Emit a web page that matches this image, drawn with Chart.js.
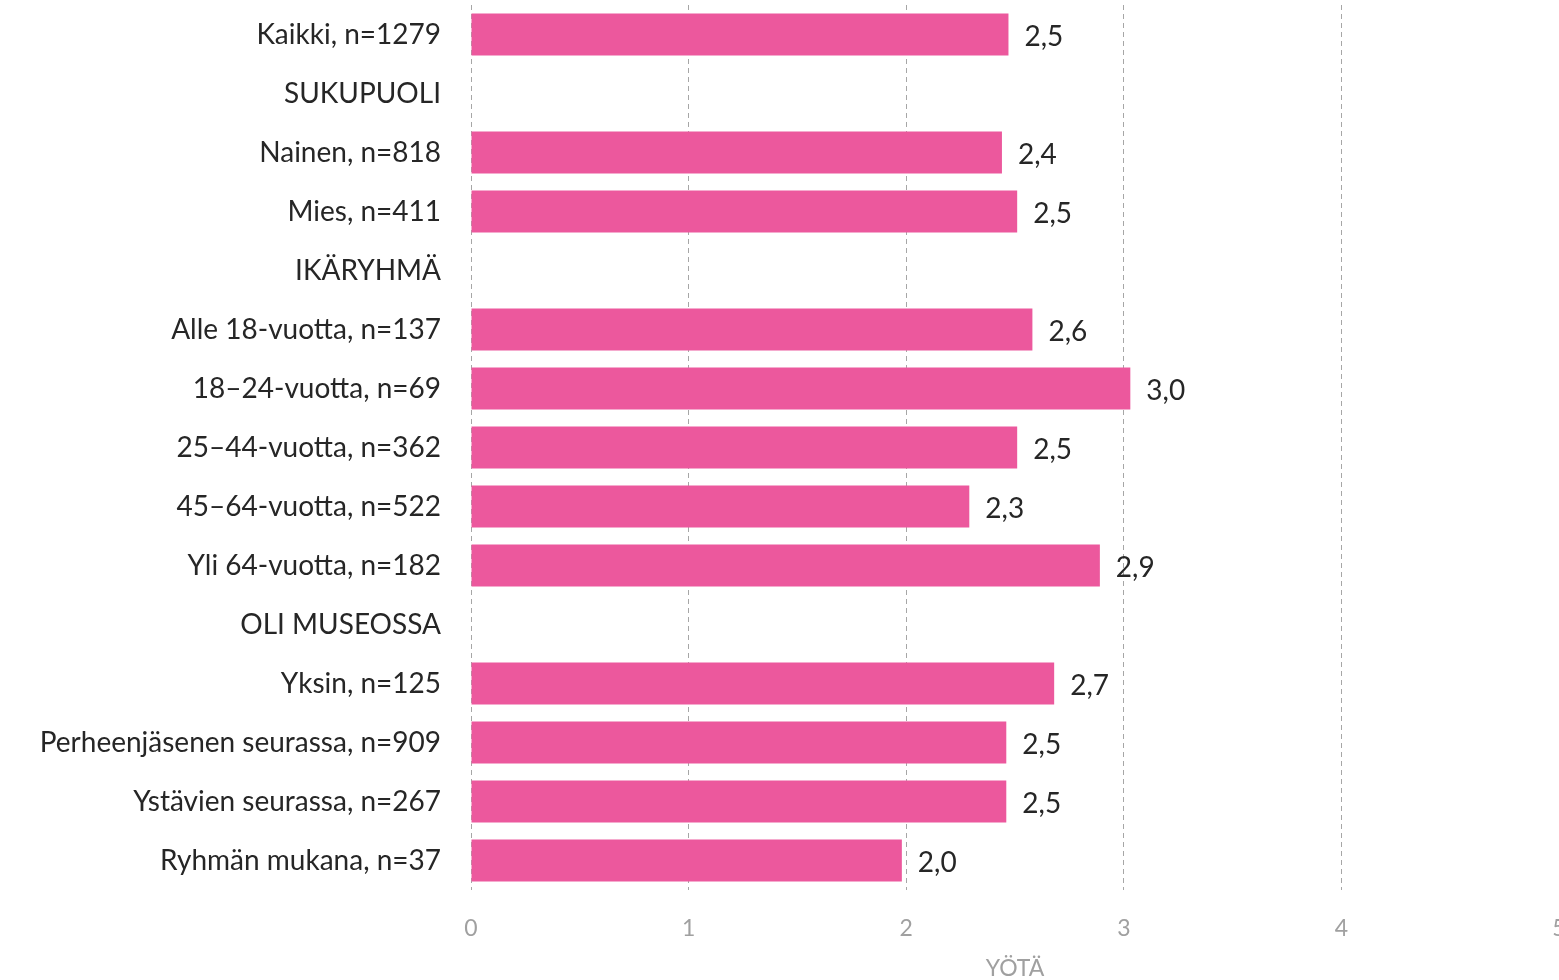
<!DOCTYPE html>
<html>
<head>
<meta charset="utf-8">
<script src="https://cdn.jsdelivr.net/npm/chart.js@4.4.1/dist/chart.umd.min.js"></script>
<style>
  html, body { margin: 0; padding: 0; background: #fff; overflow: hidden; }
  #wrap { position: relative; width: 1559px; height: 985px; }
</style>
</head>
<body>
<div id="wrap"><canvas id="c"></canvas></div>
<script>
const categories = [
  "Kaikki, n=1279",
  "SUKUPUOLI",
  "Nainen, n=818",
  "Mies, n=411",
  "IKÄRYHMÄ",
  "Alle 18-vuotta, n=137",
  "18–24-vuotta, n=69",
  "25–44-vuotta, n=362",
  "45–64-vuotta, n=522",
  "Yli 64-vuotta, n=182",
  "OLI MUSEOSSA",
  "Yksin, n=125",
  "Perheenjäsenen seurassa, n=909",
  "Ystävien seurassa, n=267",
  "Ryhmän mukana, n=37"
];
const values = [2.47, null, 2.44, 2.51, null, 2.58, 3.03, 2.51, 2.29, 2.89, null, 2.68, 2.46, 2.46, 1.98];
const xTicks = [0, 1, 2, 3, 4, 5];
const axisTitle = "YÖTÄ";

const FONT = "Lato, 'Open Sans', sans-serif";

const valueLabels = {
  id: 'valueLabels',
  afterDatasetsDraw(chart) {
    const ctx = chart.ctx;
    const meta = chart.getDatasetMeta(0);
    ctx.save();
    ctx.font = "28px " + FONT;
    ctx.fillStyle = "#262626";
    ctx.textAlign = "left";
    ctx.textBaseline = "middle";
    meta.data.forEach((bar, i) => {
      const v = values[i];
      if (v === null) return;
      ctx.fillText(v.toFixed(1).replace('.', ','), bar.x + 16, bar.y + 2);
    });
    ctx.restore();
  }
};

new Chart(document.getElementById('c'), {
  type: 'bar',
  data: {
    labels: categories,
    datasets: [{
      data: values,
      backgroundColor: '#EC589D',
      borderWidth: 0,
      categoryPercentage: 1,
      barPercentage: 0.71
    }]
  },
  options: {
    indexAxis: 'y',
    responsive: true,
    maintainAspectRatio: false,
    animation: false,
    layout: { padding: { top: 5, right: 0, left: 0, bottom: 0 } },
    plugins: { legend: { display: false }, tooltip: { enabled: false } },
    scales: {
      x: {
        min: 0, max: 5,
        afterBuildTicks(scale) { scale.ticks = xTicks.map(v => ({ value: v })); },
        afterFit(scale) { scale.height = 95; scale.paddingLeft = 0; scale.paddingRight = 0; },
        grid: { color: '#A6A6A6', lineWidth: 1, drawTicks: false },
        border: { display: false, dash: [5, 4] },
        ticks: { color: '#A0A0A0', font: { family: FONT, size: 23 }, padding: 25 },
        title: { display: true, text: axisTitle, color: '#A0A0A0', font: { family: FONT, size: 23 }, padding: { top: 0, bottom: 3 } }
      },
      y: {
        afterFit(scale) { scale.width = 471; scale.paddingTop = 0; scale.paddingBottom = 0; },
        grid: { display: false, drawTicks: false },
        border: { display: false },
        ticks: { color: '#262626', font: { family: FONT, size: 28 }, padding: 30, autoSkip: false }
      }
    }
  },
  plugins: [valueLabels]
});
</script>
</body>
</html>
